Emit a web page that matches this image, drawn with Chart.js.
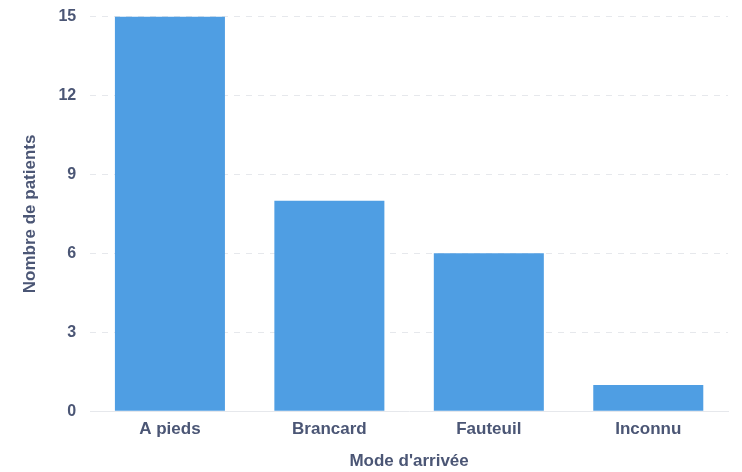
<!DOCTYPE html>
<html>
<head>
<meta charset="utf-8">
<script src="https://cdn.jsdelivr.net/npm/chart.js@4"></script>
<style>
  html, body { margin:0; padding:0; background:#fff; overflow:hidden; }
  #wrap { width:742px; height:479px; margin-top:-7px; }
</style>
</head>
<body>
<div id="wrap"><canvas id="chartArrivee"></canvas></div>
<script>
// arrival mode counts
const CATEGORIES = ['A pieds', 'Brancard', 'Fauteuil', 'Inconnu'];
const PATIENTS = [15, 8, 6, 1];
const Y_MAX = 15;
const Y_STEP = 3;

const INK = '#4b5675';
const BAR = '#4f9ee3';
const GRID = '#e6e8ec';
const FONT = 'Liberation Sans, Arial';

const ctx = document.getElementById('chartArrivee').getContext('2d');
new Chart(ctx, {
  type:'bar',
  data:{
    labels:CATEGORIES,
    datasets:[{data:PATIENTS, backgroundColor:BAR, categoryPercentage:1, barPercentage:0.69}]
  },
  options:{
    responsive:true, maintainAspectRatio:false, animation:false,
    layout:{padding:{top:0, right:14, left:16, bottom:0}},
    plugins:{legend:{display:false}, tooltip:{enabled:false}},
    scales:{
      x:{
        grid:{display:false},
        border:{color:GRID},
        ticks:{color:INK, font:{family:FONT, size:17, weight:'bold'}, padding:0},
        title:{display:true, text:"Mode d'arrivée", color:INK, font:{family:FONT, size:17, weight:'bold'}, padding:{top:12, bottom:0}}
      },
      y:{
        min:0, max:Y_MAX,
        grid:{color:GRID, drawTicks:false},
        border:{display:false, dash:[6,6]},
        ticks:{stepSize:Y_STEP, color:INK, padding:14, font:{family:FONT, size:16, weight:'bold'}},
        title:{display:true, text:'Nombre de patients', color:INK, font:{family:FONT, size:17, weight:'bold'}, padding:{bottom:4}}
      }
    }
  }
});
</script>
</body>
</html>
